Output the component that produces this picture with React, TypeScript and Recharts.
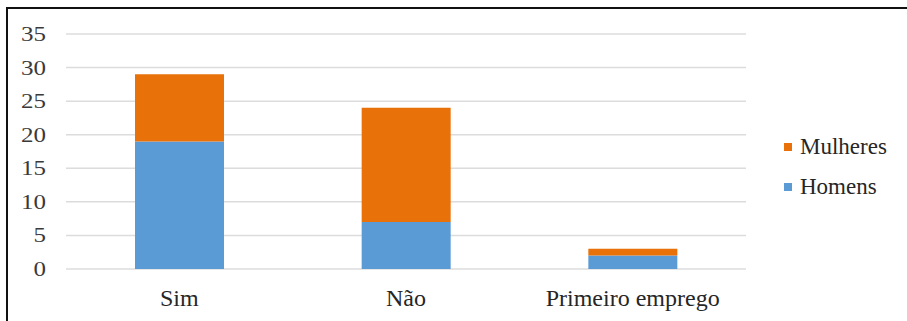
import { Bar, BarChart, CartesianGrid, XAxis, YAxis } from 'recharts';

const categories = ['Sim', 'Não', 'Primeiro emprego'];
const homens = [19, 7, 2];
const mulheres = [10, 17, 1];
const yTicks = [0, 5, 10, 15, 20, 25, 30, 35];

const homensColor = '#5b9bd5';
const mulheresColor = '#e8710a';

const data = categories.map((name, i) => ({
  name,
  Homens: homens[i],
  Mulheres: mulheres[i],
}));

const serif = "'Liberation Serif', 'Times New Roman', serif";

// y labels are drawn a little wider than the plain font
const YTick = ({ x, y, payload }: any) => (
  <text
    transform={`translate(${x},${y}) scale(1.25,1)`}
    textAnchor="end"
    dy="0.35em"
    style={{ fontFamily: serif, fontSize: 20 }}
    fill="#3a3a3a"
  >
    {payload.value}
  </text>
);

const XTick = ({ x, y, payload }: any) => (
  <text
    x={x}
    y={y}
    textAnchor="middle"
    dy="0.71em"
    style={{ fontFamily: serif, fontSize: 24 }}
    fill="#262626"
  >
    {payload.value}
  </text>
);

const legendItems = [
  { label: 'Mulheres', color: mulheresColor },
  { label: 'Homens', color: homensColor },
];

const App = () => {
  return (
    <div
      style={{
        position: 'absolute',
        left: 0,
        top: 0,
        width: 907,
        height: 321,
        background: '#fff',
        overflow: 'hidden',
      }}
    >
      <div
        style={{
          position: 'absolute',
          left: 6,
          top: 7,
          width: 920,
          height: 340,
          borderTop: '2px solid #111',
          borderLeft: '2px solid #111',
        }}
      />
      <BarChart
        width={907}
        height={321}
        data={data}
        margin={{ top: 34, right: 161, bottom: 0, left: 0 }}
        barSize={89}
      >
        <CartesianGrid vertical={false} stroke="#dcdcdc" strokeWidth={1.5} />
        <XAxis
          dataKey="name"
          height={52}
          axisLine={false}
          tickLine={false}
          tickMargin={14}
          interval={0}
          tick={<XTick />}
        />
        <YAxis
          width={66}
          domain={[0, 35]}
          ticks={yTicks}
          interval={0}
          axisLine={false}
          tickLine={false}
          tickMargin={14}
          tick={<YTick />}
        />
        <Bar dataKey="Homens" stackId="a" fill={homensColor} isAnimationActive={false} />
        <Bar dataKey="Mulheres" stackId="a" fill={mulheresColor} isAnimationActive={false} />
      </BarChart>
      <div style={{ position: 'absolute', left: 784, top: 127 }}>
        {legendItems.map((item) => (
          <div
            key={item.label}
            style={{
              display: 'flex',
              alignItems: 'center',
              height: 40,
              fontFamily: serif,
              fontSize: 23,
              color: '#262626',
            }}
          >
            <span
              style={{
                display: 'inline-block',
                width: 8,
                height: 8,
                background: item.color,
                marginRight: 8,
              }}
            />
            {item.label}
          </div>
        ))}
      </div>
    </div>
  );
};

export default App;
